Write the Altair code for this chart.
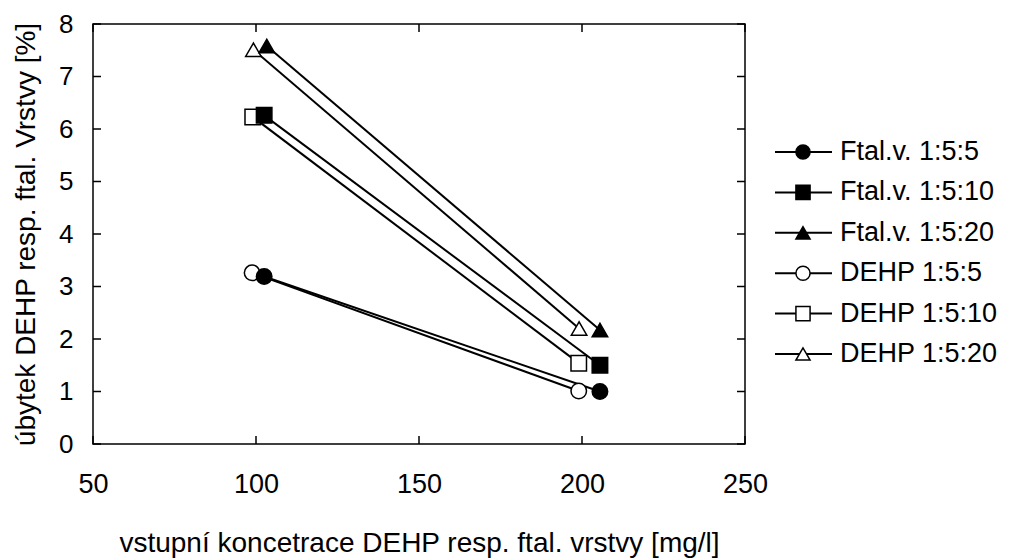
import altair as alt
import pandas as pd

series_names = ["Ftal.v. 1:5:5", "Ftal.v. 1:5:10", "Ftal.v. 1:5:20",
                "DEHP 1:5:5", "DEHP 1:5:10", "DEHP 1:5:20"]
shapes = ["circle", "square", "triangle-up", "circle", "square", "triangle-up"]
fills = ["black", "black", "black", "white", "white", "white"]
sizes = [240, 240, 300, 240, 240, 300]

# x values (input concentration) and y values (decrease %) per series
x_ftal_55 = [102.5, 205.5]
y_ftal_55 = [3.19, 1.00]
x_ftal_510 = [102.5, 205.5]
y_ftal_510 = [6.26, 1.50]
x_ftal_520 = [103.3, 205.5]
y_ftal_520 = [7.58, 2.17]
x_dehp_55 = [98.8, 199.0]
y_dehp_55 = [3.26, 1.01]
x_dehp_510 = [99.0, 199.0]
y_dehp_510 = [6.23, 1.54]
x_dehp_520 = [99.2, 199.1]
y_dehp_520 = [7.51, 2.20]

x_ticks = [50, 100, 150, 200, 250]
y_ticks = [0, 1, 2, 3, 4, 5, 6, 7, 8]

x_title = "vstupní koncetrace DEHP resp. ftal. vrstvy [mg/l]"
y_title = "úbytek DEHP resp. ftal. Vrstvy [%]"

FONT = "Liberation Sans"
W, H = 652, 420

series_data = [
    (series_names[3], x_dehp_55, y_dehp_55),
    (series_names[4], x_dehp_510, y_dehp_510),
    (series_names[5], x_dehp_520, y_dehp_520),
    (series_names[0], x_ftal_55, y_ftal_55),
    (series_names[1], x_ftal_510, y_ftal_510),
    (series_names[2], x_ftal_520, y_ftal_520),
]
rows = []
for name, xs, ys in series_data:
    for xv, yv in zip(xs, ys):
        rows.append({"series": name, "x": xv, "y": yv})
df = pd.DataFrame(rows)
legend_df = pd.DataFrame({"series": series_names})
xt_df = pd.DataFrame({"t": x_ticks})
yt_df = pd.DataFrame({"t": y_ticks})

xscale = alt.Scale(domain=[50, 250], nice=False, zero=False)
yscale = alt.Scale(domain=[0, 8], nice=False)
shape_scale = alt.Scale(domain=series_names, range=shapes)
fill_scale = alt.Scale(domain=series_names, range=fills)
size_scale = alt.Scale(domain=series_names, range=sizes)

x_enc = alt.X("x:Q", scale=xscale, title=x_title,
              axis=alt.Axis(values=x_ticks, domain=False, ticks=False, grid=False,
                            labelFontSize=27, labelFont=FONT, labelColor="black",
                            labelPadding=27, labelFlush=False, labelOverlap=False,
                            titleFontSize=28, titleFont=FONT, titleColor="black",
                            titleFontWeight="normal", titlePadding=32))
y_enc = alt.Y("y:Q", scale=yscale, title=y_title,
              axis=alt.Axis(values=y_ticks, domain=False, ticks=False, grid=False,
                            labelFontSize=26, labelFont=FONT, labelColor="black",
                            labelPadding=20, labelFlush=False, labelOverlap=False,
                            titleFontSize=28, titleFont=FONT, titleColor="black",
                            titleFontWeight="normal", titlePadding=18))

lines = alt.Chart(df).mark_line(color="black", strokeWidth=2).encode(
    x=x_enc, y=y_enc, detail="series:N")

points = alt.Chart(df).mark_point(filled=True, stroke="black", strokeWidth=1.5,
                                  opacity=1, fillOpacity=1).encode(
    x=alt.X("x:Q", scale=xscale),
    y=alt.Y("y:Q", scale=yscale),
    shape=alt.Shape("series:N", scale=shape_scale, legend=None),
    fill=alt.Fill("series:N", scale=fill_scale, legend=None),
    size=alt.Size("series:N", scale=size_scale, legend=None),
)

tick_bottom = alt.Chart(xt_df).mark_rule(color="black", strokeWidth=1.5).encode(
    x=alt.X("t:Q", scale=xscale), y=alt.value(H), y2=alt.value(H - 8))
tick_top = alt.Chart(xt_df).mark_rule(color="black", strokeWidth=1.5).encode(
    x=alt.X("t:Q", scale=xscale), y=alt.value(0), y2=alt.value(8))
tick_left = alt.Chart(yt_df).mark_rule(color="black", strokeWidth=1.5).encode(
    y=alt.Y("t:Q", scale=yscale), x=alt.value(0), x2=alt.value(8))
tick_right = alt.Chart(yt_df).mark_rule(color="black", strokeWidth=1.5).encode(
    y=alt.Y("t:Q", scale=yscale), x=alt.value(W), x2=alt.value(W - 8))

main = alt.layer(lines, points, tick_bottom, tick_top, tick_left, tick_right)

leg_y = alt.Y("series:N", scale=alt.Scale(type="point", domain=series_names,
                                          range=[128, 330], padding=0), axis=None)
leg_rule = alt.Chart(legend_df).mark_rule(color="black", strokeWidth=2).encode(
    x=alt.value(682), x2=alt.value(739), y=leg_y)
leg_pts = alt.Chart(legend_df).mark_point(filled=True, stroke="black", strokeWidth=1.5,
                                          opacity=1, fillOpacity=1).encode(
    x=alt.value(710), y=leg_y,
    shape=alt.Shape("series:N", scale=shape_scale, legend=None),
    fill=alt.Fill("series:N", scale=fill_scale, legend=None),
    size=alt.value(200),
)
leg_text = alt.Chart(legend_df).mark_text(align="left", baseline="middle", fontSize=27,
                                          font=FONT, color="black").encode(
    x=alt.value(747), y=leg_y, text="series:N")
legend = alt.layer(leg_rule, leg_pts, leg_text)

chart = alt.layer(main, legend).resolve_scale(y="independent").properties(
    width=W, height=H,
    autosize=alt.AutoSizeParams(type="none"),
    padding={"left": 93, "top": 24, "right": 1011 - 93 - W, "bottom": 560 - 24 - H},
    background="white",
).configure_view(stroke="black", strokeWidth=1.5)

chart.save("out.html", embed_options={"renderer": "svg", "actions": False})
